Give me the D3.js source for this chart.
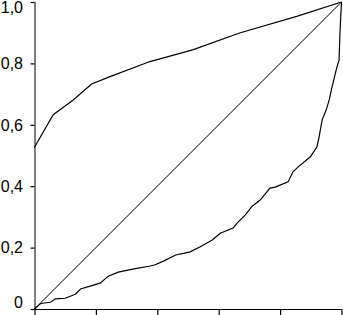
<!DOCTYPE html>
<html>
<head>
<meta charset="utf-8">
<script src="https://cdn.jsdelivr.net/npm/d3@7"></script>
<style>
    html, body { margin: 0; padding: 0; background: #ffffff; }
    svg { display: block; }
    .label { font-family: "Liberation Sans", Arial, sans-serif; font-size: 16px; fill: #000000; }
</style>
</head>
<body>
<div id="chart"></div>
<script>
// curve values
let upperX = [0, 0.061, 0.126, 0.186, 0.246, 0.376, 0.515, 0.668, 0.854, 1];
let upperY = [0.527, 0.633, 0.681, 0.733, 0.757, 0.806, 0.844, 0.899, 0.953, 1];

let lowerX = [0, 0.02, 0.052, 0.068, 0.1, 0.133, 0.15, 0.192, 0.215, 0.24, 0.273, 0.32, 0.377, 0.393,
    0.42, 0.46, 0.485, 0.507, 0.54, 0.579, 0.605, 0.647, 0.66, 0.686, 0.709, 0.735, 0.767, 0.784,
    0.826, 0.842, 0.859, 0.898, 0.92, 0.927, 0.937, 0.95, 0.96, 0.969, 0.985, 0.992, 0.995, 1];
let lowerY = [0, 0.018, 0.022, 0.033, 0.035, 0.048, 0.065, 0.078, 0.085, 0.107, 0.12, 0.13, 0.14, 0.144,
    0.156, 0.176, 0.181, 0.186, 0.203, 0.225, 0.247, 0.264, 0.28, 0.306, 0.335, 0.355, 0.394, 0.397,
    0.414, 0.447, 0.463, 0.495, 0.528, 0.561, 0.616, 0.648, 0.681, 0.723, 0.788, 0.81, 0.9, 1];

let diagX = [0, 1];
let diagY = [0, 1];

let xTicks = [0, 0.2, 0.4, 0.6, 0.8, 1];
let yTicks = [0, 0.2, 0.4, 0.6, 0.8, 1];

let width = 343;
let height = 315;
let margin = { top: 2, right: 1.5, bottom: 6, left: 34.5 };

let svg = d3.select("#chart").append("svg")
    .attr("width", width)
    .attr("height", height);

let x = d3.scaleLinear().domain([0, 1]).range([margin.left, width - margin.right]);
let y = d3.scaleLinear().domain([0, 1]).range([height - margin.bottom, margin.top]);

function fmt(d) {
    return d === 0 ? "0" : d3.format(".1f")(d).replace(".", ",");
}

// x axis: ticks only, no labels
svg.append("g")
    .attr("transform", "translate(0," + y(0) + ")")
    .call(d3.axisBottom(x).tickValues(xTicks).tickSize(6).tickFormat(""))
    .call(g => g.select(".domain").attr("d", "M" + x(0) + ",0.5H" + x(1)))
    .call(g => g.selectAll("line").attr("stroke-width", 1.2));

// y axis
svg.append("g")
    .attr("transform", "translate(" + x(0) + ",0)")
    .call(d3.axisLeft(y).tickValues(yTicks).tickSize(4).tickFormat(""))
    .call(g => g.select(".domain").attr("d", "M0.5," + y(1) + "V" + y(0)))
    .call(g => g.selectAll("line").attr("stroke-width", 1.2));

// labels, kept inside the picture at top and bottom
svg.selectAll(".label")
    .data(yTicks)
    .enter().append("text")
    .attr("class", "label")
    .attr("x", 23)
    .attr("y", function (d) { return Math.min(Math.max(y(d), 7), 302); })
    .attr("dy", "0.36em")
    .style("text-anchor", "end")
    .text(fmt);

let line = d3.line()
    .x(function (d) { return x(d[0]); })
    .y(function (d) { return y(d[1]); });

function drawCurve(xs, ys, w) {
    svg.append("path")
        .datum(d3.zip(xs, ys))
        .attr("fill", "none")
        .attr("stroke", "#000000")
        .attr("stroke-width", w)
        .attr("d", line);
}

drawCurve(diagX, diagY, 1);
drawCurve(upperX, upperY, 1.2);
drawCurve(lowerX, lowerY, 1.2);
</script>
</body>
</html>
